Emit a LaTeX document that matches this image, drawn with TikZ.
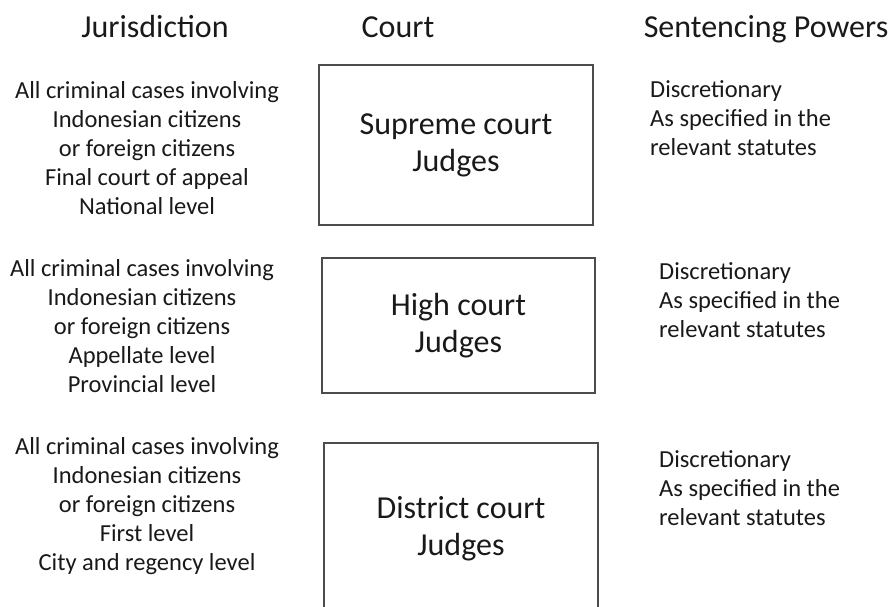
\documentclass[tikz,border=0pt]{standalone}
\usepackage{fontspec}
\setmainfont{Carlito}
\begin{document}
\begin{tikzpicture}[x=1pt,y=-1pt,
  head/.style={font=\fontsize{32}{38}\selectfont,anchor=base,inner sep=0pt,text=black!90},
  court/.style={draw=black!70,line width=1.5pt,align=center,inner sep=0pt,
    font=\fontsize{32}{37}\selectfont,text=black!90},
  juris/.style={align=center,inner sep=0pt,font=\fontsize{24.5}{29}\selectfont,text=black!90},
  power/.style={align=left,anchor=west,inner sep=0pt,font=\fontsize{24.5}{29}\selectfont,text=black!90}]
\useasboundingbox (0,0) rectangle (891,607);
\clip (0,0) rectangle (891,607);
% column headings
\node[head] (hjur) at (155,38) {Jurisdiction};
\node[head] (hcourt) at (398,38) {Court};
\node[head] (hpow) at (766,38) {Sentencing Powers};
% courts
\node[court,minimum width=274pt,minimum height=160pt] (supreme) at (456,145) {Supreme court\\Judges};
\node[court,minimum width=273pt,minimum height=135pt] (high) at (458.5,325.5) {High court\\Judges};
\node[court,minimum width=274pt,minimum height=172pt] (district) at (461,529) {District court\\Judges};
% jurisdiction
\node[juris] (jsupreme) at (147,148) {All criminal cases involving\\Indonesian citizens\\or foreign citizens\\Final court of appeal\\National level};
\node[juris] (jhigh) at (142,326) {All criminal cases involving\\Indonesian citizens\\or foreign citizens\\Appellate level\\Provincial level};
\node[juris] (jdistrict) at (147,506) {All criminal cases involving\\Indonesian citizens\\or foreign citizens\\First level\\City and regency level};
% sentencing powers
\node[power] (psupreme) at (650,118) {Discretionary\\As specified in the\\relevant statutes};
\node[power] (phigh) at (659,300) {Discretionary\\As specified in the\\relevant statutes};
\node[power] (pdistrict) at (659,488) {Discretionary\\As specified in the\\relevant statutes};
\end{tikzpicture}
\end{document}
